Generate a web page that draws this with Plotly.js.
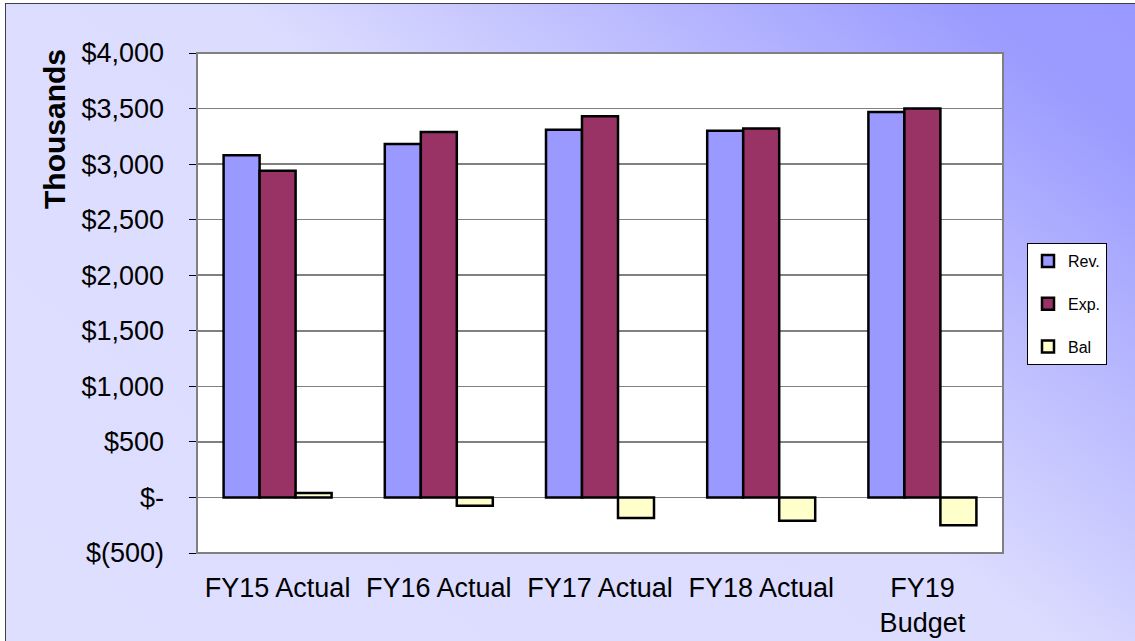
<!DOCTYPE html>
<html>
<head>
<meta charset="utf-8">
<script src="https://cdn.plot.ly/plotly-3.0.1.min.js"></script>
<style>
  html, body { margin: 0; padding: 0; background: #ffffff; overflow: hidden; }
  #frame {
    position: absolute; left: 5px; top: 3px; width: 1140px; height: 650px;
    border-left: 1px solid #404040; border-top: 1px solid #404040;
    background: linear-gradient(38deg, #dedeff 0%, #dcdcff 54%, #9c9cff 90%, #9898ff 100%);
  }
  #chart { position: absolute; left: 0; top: 0; width: 1135px; height: 641px; }
</style>
</head>
<body>
<div id="frame"></div>
<div id="chart"></div>
<script>
// Fiscal-year revenue, expenses and balance, in thousands of dollars
const categories = ["FY15 Actual", "FY16 Actual", "FY17 Actual", "FY18 Actual", "FY19 Budget"];
const categoryLabels = ["FY15 Actual", "FY16 Actual", "FY17 Actual", "FY18 Actual", "FY19<br>Budget"];
const revenue  = [3080, 3180, 3310, 3300, 3470];
const expenses = [2940, 3290, 3430, 3320, 3500];
const balance  = [40, -75, -185, -210, -250];
const seriesNames = ["Rev.", "Exp.", "Bal"];
const yTicks = [-500, 0, 500, 1000, 1500, 2000, 2500, 3000, 3500, 4000];

// Accounting-style dollar labels: $4,000 / $- / $(500)
function money(v) {
  if (v === 0) return "$-";
  const s = Math.abs(v).toLocaleString("en-US");
  return v < 0 ? "$(" + s + ")" : "$" + s;
}

const FONT = "Liberation Sans, Arial, sans-serif";
const W = 1135, H = 641;
const M = { l: 197, r: 132, t: 53, b: 88 };
const plotW = W - M.l - M.r, plotH = H - M.t - M.b;

function barTrace(name, values, fill) {
  return {
    type: "bar", name: name, x: categories, y: values,
    legendgroup: name,
    marker: { color: fill, line: { color: "#000000", width: 2.5 } },
    hoverinfo: "skip"
  };
}

const data = [
  barTrace(seriesNames[0], revenue, "#9999ff"),
  barTrace(seriesNames[1], expenses, "#993366"),
  barTrace(seriesNames[2], balance, "#ffffcc")
];

const layout = {
  width: W, height: H,
  margin: M,
  paper_bgcolor: "rgba(0,0,0,0)",
  plot_bgcolor: "#ffffff",
  font: { family: FONT, color: "#000000" },
  barmode: "group",
  bargap: 0.33,
  bargroupgap: 0,
  showlegend: true,
  legend: {
    xref: "container", yref: "container",
    x: 1027 / W, y: 1 - 243 / H, xanchor: "left", yanchor: "top",
    bgcolor: "#ffffff", bordercolor: "#000000", borderwidth: 1,
    font: { family: FONT, size: 16, color: "#000000" },
    traceorder: "grouped", tracegroupgap: 19
  },
  xaxis: {
    type: "category",
    tickvals: categories, ticktext: categoryLabels,
    ticks: "", showline: false, showgrid: false, zeroline: false,
    tickfont: { family: FONT, size: 27, color: "#000000" },
    ticklabelstandoff: 16
  },
  // category axis drawn along the zero line, ticks at category boundaries
  xaxis2: {
    overlaying: "x", anchor: "free", position: 500 / 4500,
    range: [-0.5, 4.5],
    tickvals: [-0.5, 0.5, 1.5, 2.5, 3.5, 4.5],
    ticks: "outside", ticklen: 7, tickcolor: "#000000", tickwidth: 1,
    showticklabels: false, showgrid: false, zeroline: false,
    showline: true, linecolor: "#000000", linewidth: 1.5
  },
  yaxis: {
    range: [-500, 4000],
    tickvals: yTicks, ticktext: yTicks.map(money),
    ticks: "outside", ticklen: 7, tickcolor: "#000000", tickwidth: 1,
    showline: true, linecolor: "#000000", linewidth: 1.5,
    showgrid: true, gridcolor: "#808080", gridwidth: 1.5,
    zeroline: false,
    tickfont: { family: FONT, size: 27, color: "#000000" },
    ticklabelstandoff: 19
  },
  shapes: [{
    type: "rect", xref: "paper", yref: "paper", x0: 0, x1: 1, y0: 0, y1: 1,
    line: { color: "#808080", width: 2 }, layer: "above"
  }],
  annotations: [{
    text: "<b>Thousands</b>", textangle: -90, showarrow: false,
    xref: "paper", yref: "paper",
    x: (54 - M.l) / plotW, y: (H - M.b - 129) / plotH,
    xanchor: "center", yanchor: "middle",
    font: { family: FONT, size: 30, color: "#000000" }
  }]
};

Plotly.newPlot("chart", data, layout, { displayModeBar: false, staticPlot: true });
</script>
</body>
</html>
